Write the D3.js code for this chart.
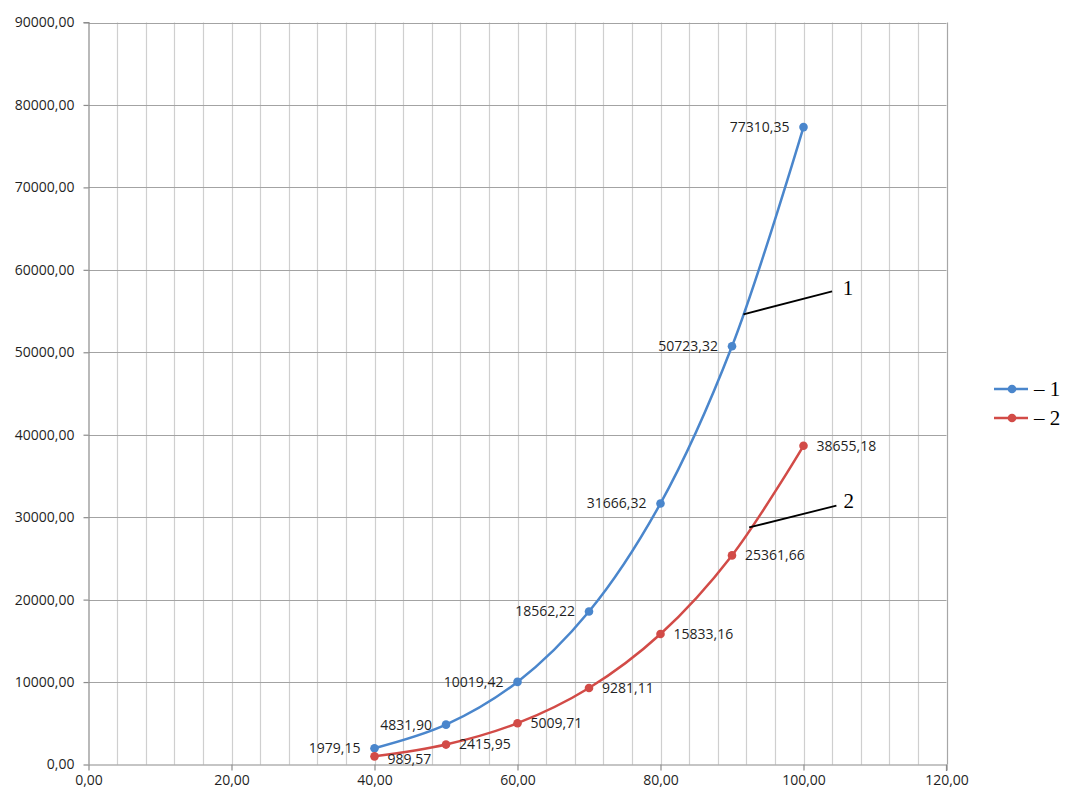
<!DOCTYPE html>
<html>
<head>
<meta charset="utf-8">
<script src="https://cdn.jsdelivr.net/npm/d3@7"></script>
<style>
  html, body { margin: 0; padding: 0; background: #fff; }
  svg { display: block; }
  .tick-label { font-family: "Open Sans", "Liberation Sans", Arial, sans-serif; font-size: 14px; fill: #1f1f1f; }
  .data-label { font-family: "Open Sans", "Liberation Sans", Arial, sans-serif; font-size: 14px; fill: #1f1f1f; }
  .serif { font-family: "Liberation Serif", "Times New Roman", serif; font-size: 21px; fill: #000; }
</style>
</head>
<body>
<svg id="chart" width="1068" height="796"></svg>
<script>
// Argument values shared by both curves
const xValues = [40, 50, 60, 70, 80, 90, 100];
// Curve 1 and curve 2
const series1 = [1979.15, 4831.90, 10019.42, 18562.22, 31666.32, 50723.32, 77310.35];
const series2 = [989.57, 2415.95, 5009.71, 9281.11, 15833.16, 25361.66, 38655.18];
const seriesNames = ["– 1", "– 2"];
const seriesColors = ["#4a86cc", "#d24b47"];

// Axis ticks
const xTicks = [0, 20, 40, 60, 80, 100, 120];
const xMinorTicks = d3.range(0, 121, 4);
const yTicks = [0, 10000, 20000, 30000, 40000, 50000, 60000, 70000, 80000, 90000];

// Leader lines for the curve numbers (data coordinates)
const callouts = [
  { text: "1", from: [91.6, 54600], to: [104.0, 57400], at: [105.5, 56900] },
  { text: "2", from: [92.4, 28750], to: [104.6, 31400], at: [105.6, 31170] }
];

const fmt = v => v.toFixed(2).replace(".", ",");

const svg = d3.select("#chart");
const x = d3.scaleLinear().domain([0, 120]).range([88.5, 946.5]);
const y = d3.scaleLinear().domain([0, 90000]).range([764.5, 22.5]);

// Vertical minor gridlines
svg.append("g").selectAll("line").data(xMinorTicks.filter(d => d > 0)).join("line")
  .attr("x1", d => Math.round(x(d)) + 0.5).attr("x2", d => Math.round(x(d)) + 0.5)
  .attr("y1", y(90000)).attr("y2", y(0))
  .attr("stroke", d => d === 120 ? "#a6a6a6" : "#cfcfcf").attr("stroke-width", 1.2);

// Horizontal gridlines
svg.append("g").selectAll("line").data(yTicks.filter(d => d > 0)).join("line")
  .attr("x1", x(0)).attr("x2", x(120))
  .attr("y1", d => Math.round(y(d)) + 0.5).attr("y2", d => Math.round(y(d)) + 0.5)
  .attr("stroke", "#a3a3a3").attr("stroke-width", 1.2);

// Axes
const xAxis = d3.axisBottom(x).tickValues(xTicks).tickFormat(fmt).tickSize(6).tickPadding(5);
const yAxis = d3.axisLeft(y).tickValues(yTicks).tickFormat(fmt).tickSize(5).tickPadding(9);

const gx = svg.append("g").attr("transform", `translate(0,${y(0)})`).call(xAxis);
const gy = svg.append("g").attr("transform", `translate(${x(0)},0)`).call(yAxis);
[gx, gy].forEach(g => {
  g.select(".domain").attr("stroke", "#8c8c8c").attr("stroke-width", 1.2);
  g.selectAll(".tick line").attr("stroke", "#8c8c8c").attr("stroke-width", 1.2);
  g.selectAll(".tick text").attr("class", "tick-label").attr("fill", null);
});
gx.select(".domain").attr("d", `M${x(0)},0.5H${x(120)}V6.5`);
gy.select(".domain").attr("d", `M-5,${y(90000)}H0.5V${y(0)}`);

// Curves
const line = d3.line().x(d => x(d[0])).y(d => y(d[1])).curve(d3.curveCatmullRom.alpha(0.5));
[series1, series2].forEach((s, i) => {
  const pts = xValues.map((xv, j) => [xv, s[j]]);
  svg.append("path").datum(pts)
    .attr("d", line).attr("fill", "none")
    .attr("stroke", seriesColors[i]).attr("stroke-width", 2.5);
  svg.append("g").selectAll("circle").data(pts).join("circle")
    .attr("cx", d => x(d[0])).attr("cy", d => y(d[1])).attr("r", 4.3)
    .attr("fill", seriesColors[i]);
});

// Value labels: curve 1 to the left, curve 2 to the right
svg.append("g").selectAll("text").data(xValues.map((xv, j) => [xv, series1[j]])).join("text")
  .attr("class", "data-label")
  .attr("x", d => x(d[0]) - 14).attr("y", d => y(d[1]))
  .attr("dy", "0.35em").attr("text-anchor", "end")
  .text(d => fmt(d[1]));
svg.append("g").selectAll("text").data(xValues.map((xv, j) => [xv, series2[j]])).join("text")
  .attr("class", "data-label")
  .attr("x", d => x(d[0]) + 13).attr("y", (d, j) => y(d[1]) + (j === 0 ? 3 : 0))
  .attr("dy", "0.35em").attr("text-anchor", "start")
  .text(d => fmt(d[1]));

// Curve number callouts
callouts.forEach(c => {
  svg.append("line")
    .attr("x1", x(c.from[0])).attr("y1", y(c.from[1]))
    .attr("x2", x(c.to[0])).attr("y2", y(c.to[1]))
    .attr("stroke", "#000").attr("stroke-width", 1.8);
  svg.append("text").attr("class", "serif")
    .attr("x", x(c.at[0])).attr("y", y(c.at[1]))
    .text(c.text);
});

// Legend
const legend = svg.append("g").attr("transform", "translate(994,389)");
seriesNames.forEach((name, i) => {
  const g = legend.append("g").attr("transform", `translate(0,${i * 29})`);
  g.append("line").attr("x1", 0).attr("x2", 34).attr("y1", 0).attr("y2", 0)
    .attr("stroke", seriesColors[i]).attr("stroke-width", 2.5);
  g.append("circle").attr("cx", 18).attr("cy", 0).attr("r", 4.3).attr("fill", seriesColors[i]);
  g.append("text").attr("class", "serif").attr("x", 40).attr("y", 7).text(name);
});
</script>
</body>
</html>
